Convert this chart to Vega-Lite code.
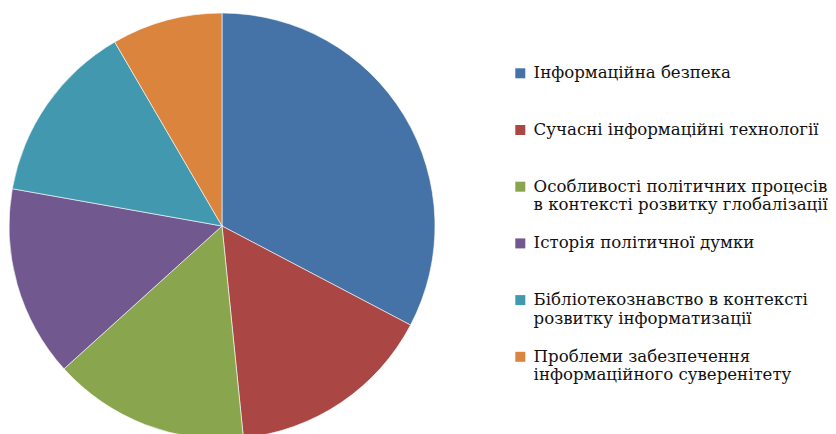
{
  "$schema": "https://vega.github.io/schema/vega-lite/v6.json",
  "width": 444,
  "height": 452,
  "padding": 0,
  "autosize": {"type": "pad"},
  "background": "white",
  "data": {
    "values": [
      {"topic": "Інформаційна безпека", "share": 32.7, "ord": 1},
      {"topic": "Сучасні інформаційні технології", "share": 15.7, "ord": 2},
      {"topic": "Особливості політичних процесів в контексті розвитку глобалізації", "share": 14.9, "ord": 3},
      {"topic": "Історія політичної думки", "share": 14.5, "ord": 4},
      {"topic": "Бібліотекознавство в контексті розвитку інформатизації", "share": 13.8, "ord": 5},
      {"topic": "Проблеми забезпечення інформаційного суверенітету", "share": 8.4, "ord": 6}
    ]
  },
  "mark": {"type": "arc", "outerRadius": 213, "stroke": "#ffffff", "strokeWidth": 0.6},
  "encoding": {
    "theta": {"field": "share", "type": "quantitative", "stack": true},
    "order": {"field": "ord", "type": "quantitative"},
    "color": {
      "field": "topic",
      "type": "nominal",
      "scale": {
        "domain": [
          "Інформаційна безпека",
          "Сучасні інформаційні технології",
          "Особливості політичних процесів в контексті розвитку глобалізації",
          "Історія політичної думки",
          "Бібліотекознавство в контексті розвитку інформатизації",
          "Проблеми забезпечення інформаційного суверенітету"
        ],
        "range": ["#4572A7", "#AA4643", "#89A54E", "#71588F", "#4198AF", "#DB843D"]
      },
      "legend": {
        "title": null,
        "orient": "none",
        "legendX": 512,
        "legendY": 65,
        "padding": 0,
        "symbolType": "square",
        "symbolSize": 100,
        "symbolStrokeWidth": 0,
        "labelFont": "DejaVu Serif",
        "labelFontSize": 16.6,
        "labelLineHeight": 23,
        "labelColor": "#111111",
        "labelLimit": 400,
        "labelOffset": 5,
        "labelBaseline": "middle",
        "rowPadding": 20.7,
        "labelExpr": "datum.label == 'Особливості політичних процесів в контексті розвитку глобалізації' ? ['Особливості політичних процесів', 'в контексті розвитку глобалізації'] : datum.label == 'Бібліотекознавство в контексті розвитку інформатизації' ? ['Бібліотекознавство в контексті', 'розвитку інформатизації'] : datum.label == 'Проблеми забезпечення інформаційного суверенітету' ? ['Проблеми забезпечення', 'інформаційного суверенітету'] : [datum.label, '']",
        "encode": {
          "labels": {"update": {"dy": {"value": 11.5}}}
        }
      }
    }
  },
  "config": {"view": {"stroke": null}}
}
